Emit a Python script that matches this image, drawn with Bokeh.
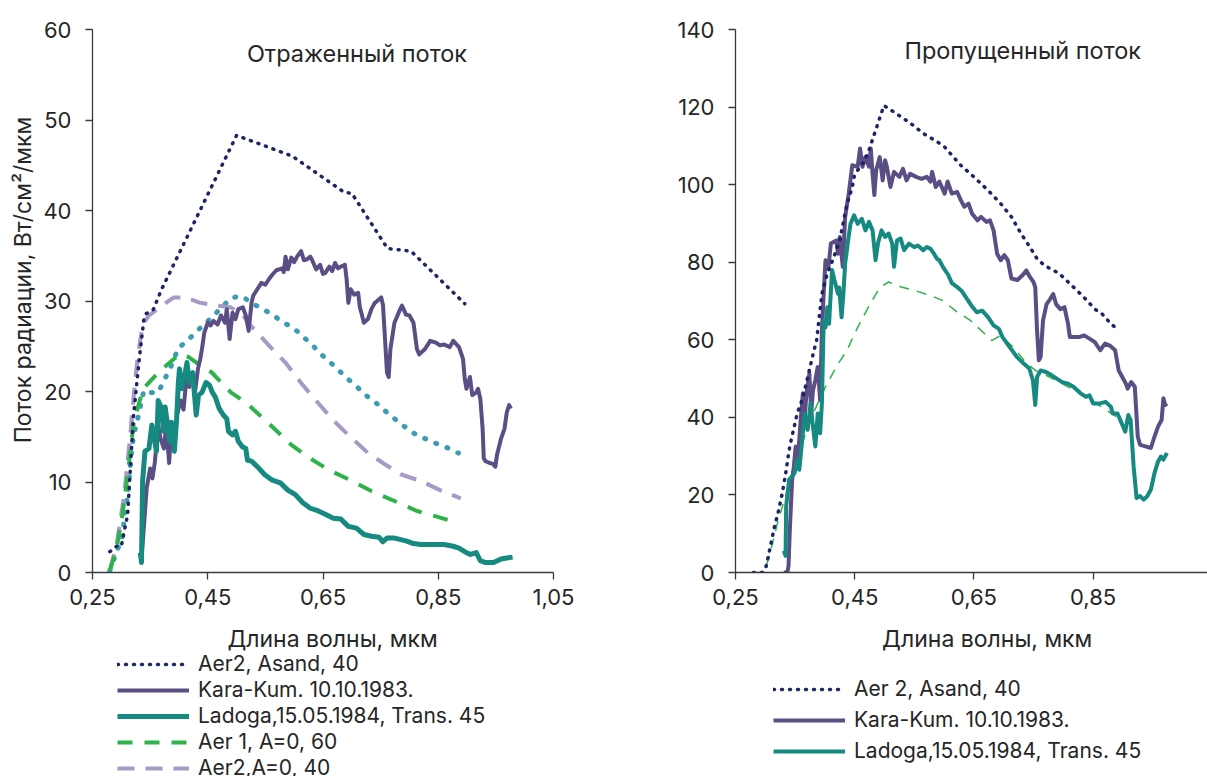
from math import pi

from bokeh.embed import file_html
from bokeh.layouts import column, row
from bokeh.models import FixedTicker, Label, Legend, LegendItem, Range1d
from bokeh.plotting import figure
from bokeh.resources import INLINE

FONT = "Inter"
INK = "#262626"
AXIS = "#3a3a3a"

NAVY = "#1c2566"
PURPLE = "#5b4e85"
TEAL = "#168a80"
GREEN = "#2db34a"
LILAC = "#a89ac6"
CYAN = "#3a9db3"

# ---------------- reflected flux (left panel) ----------------
refl_asand_x = [0.280, 0.292, 0.300, 0.311, 0.321, 0.331, 0.339, 0.343, 0.355, 0.370, 0.500,
                0.597, 0.687, 0.700, 0.762, 0.803, 0.896]
refl_asand_y = [2.3, 2.9, 2.9, 6.4, 17.2, 23.5, 27.9, 28.6, 29.0, 31.3, 48.3,
                46.0, 42.0, 41.9, 35.8, 35.5, 29.7]

refl_karakum_x = [0.335, 0.338, 0.344, 0.350, 0.354, 0.358, 0.364, 0.368, 0.374, 0.378, 0.383, 0.387,
                  0.392, 0.397, 0.403, 0.408, 0.413, 0.418, 0.423, 0.428, 0.433, 0.437, 0.440, 0.444,
                  0.450, 0.455, 0.460, 0.467, 0.473, 0.480, 0.483, 0.488, 0.493, 0.498, 0.503, 0.511,
                  0.516, 0.521, 0.526, 0.529, 0.536, 0.543, 0.550, 0.556, 0.562, 0.569, 0.579, 0.582,
                  0.585, 0.589, 0.595, 0.600, 0.605, 0.612, 0.617, 0.622, 0.628, 0.632, 0.638, 0.645,
                  0.650, 0.654, 0.661, 0.666, 0.671, 0.676, 0.681, 0.688, 0.691, 0.694, 0.698, 0.704,
                  0.711, 0.714, 0.721, 0.728, 0.734, 0.740, 0.744, 0.751, 0.754, 0.757, 0.761, 0.764,
                  0.767, 0.774, 0.784, 0.787, 0.794, 0.800, 0.807, 0.813, 0.817, 0.827, 0.836, 0.846,
                  0.853, 0.860, 0.870, 0.876, 0.886, 0.893, 0.896, 0.899, 0.905, 0.909, 0.916, 0.919,
                  0.923, 0.927, 0.929, 0.932, 0.939, 0.945, 0.949, 0.952, 0.959, 0.965, 0.969, 0.973,
                  0.976]
refl_karakum_y = [1.6, 4.0, 9.3, 11.5, 10.4, 12.1, 16.3, 14.8, 13.7, 16.3, 12.1, 16.3,
                  14.5, 17.5, 19.0, 18.0, 21.5, 20.5, 22.0, 20.0, 22.5, 23.6, 24.7, 26.5,
                  27.6, 27.3, 27.8, 27.4, 28.4, 27.6, 29.1, 25.8, 28.7, 28.0, 29.1, 29.3,
                  28.4, 26.7, 29.8, 30.6, 31.3, 32.0, 31.8, 32.4, 32.9, 33.4, 33.6, 33.2,
                  34.9, 33.5, 34.8, 34.3, 34.9, 35.5, 34.5, 34.6, 34.9, 34.4, 33.5, 34.0,
                  33.0, 33.1, 33.8, 33.3, 34.2, 33.6, 33.8, 34.0, 32.4, 29.8, 31.3, 30.7,
                  30.9, 29.3, 27.6, 28.0, 29.1, 29.8, 30.0, 30.4, 29.6, 26.5, 22.1, 21.6,
                  24.7, 27.6, 29.1, 29.5, 28.5, 28.4, 27.6, 24.7, 24.1, 24.7, 25.6, 25.4,
                  25.1, 25.2, 24.9, 25.6, 24.9, 23.6, 21.4, 20.3, 21.6, 19.6, 19.9, 20.3,
                  19.2, 15.9, 12.6, 12.3, 12.1, 12.0, 11.7, 13.0, 14.8, 15.9, 17.7, 18.5,
                  18.1]

refl_ladoga_x = [0.333, 0.335, 0.337, 0.341, 0.348, 0.353, 0.356, 0.361, 0.364, 0.370, 0.373, 0.376,
                 0.381, 0.384, 0.387, 0.392, 0.396, 0.399, 0.401, 0.405, 0.411, 0.414, 0.418, 0.424,
                 0.427, 0.430, 0.434, 0.440, 0.447, 0.453, 0.458, 0.463, 0.470, 0.477, 0.483, 0.486,
                 0.493, 0.498, 0.503, 0.510, 0.516, 0.519, 0.526, 0.536, 0.549, 0.562, 0.576, 0.589,
                 0.602, 0.615, 0.628, 0.642, 0.655, 0.668, 0.681, 0.694, 0.708, 0.721, 0.734, 0.747,
                 0.754, 0.761, 0.774, 0.794, 0.807, 0.820, 0.840, 0.860, 0.876, 0.886, 0.896, 0.906,
                 0.916, 0.923, 0.932, 0.946, 0.959, 0.969, 0.979]
refl_ladoga_y = [2.2, 1.1, 10.1, 13.4, 13.7, 16.3, 15.2, 13.4, 19.0, 18.1, 15.6, 18.3,
                 15.9, 14.5, 16.6, 13.4, 17.0, 21.0, 22.5, 20.3, 22.1, 23.2, 21.0, 22.1,
                 19.6, 17.4, 19.6, 19.9, 21.0, 20.7, 19.9, 19.4, 18.1, 17.4, 17.0, 15.6,
                 15.2, 15.6, 14.5, 13.9, 13.7, 12.4, 12.3, 11.7, 10.8, 10.2, 9.9, 9.1,
                 8.6, 7.7, 7.1, 6.8, 6.4, 6.0, 5.9, 5.1, 4.9, 4.2, 4.0, 3.9,
                 3.4, 3.8, 3.8, 3.5, 3.2, 3.1, 3.1, 3.1, 2.9, 2.7, 2.3, 2.0,
                 2.2, 1.3, 1.1, 1.1, 1.5, 1.6, 1.7]

refl_aer1_x = [0.280, 0.292, 0.302, 0.311, 0.321, 0.328, 0.338, 0.354, 0.364, 0.384, 0.401, 0.417,
               0.437, 0.457, 0.490, 0.516, 0.562, 0.595, 0.628, 0.661, 0.701, 0.734, 0.774, 0.813,
               0.846, 0.883]
refl_aer1_y = [0.2, 2.7, 6.4, 10.8, 16.3, 18.1, 20.3, 21.4, 22.1, 23.2, 24.1, 23.8,
               22.9, 22.1, 19.9, 18.8, 16.1, 14.1, 12.6, 11.3, 10.1, 9.0, 7.9, 6.8,
               6.2, 5.5]

refl_aer2_x = [0.280, 0.292, 0.305, 0.315, 0.321, 0.328, 0.337, 0.348, 0.371, 0.391, 0.411, 0.437,
               0.464, 0.490, 0.510, 0.523, 0.556, 0.586, 0.615, 0.642, 0.668, 0.694, 0.728, 0.754,
               0.787, 0.820, 0.853, 0.889]
refl_aer2_y = [0.2, 3.1, 8.6, 14.8, 19.2, 23.6, 27.4, 28.4, 29.5, 30.4, 30.4, 29.8,
               29.5, 29.3, 28.5, 27.4, 25.1, 23.1, 20.7, 18.7, 16.8, 15.2, 13.2, 12.1,
               10.8, 10.1, 9.1, 8.2]

refl_model_x = [0.280, 0.288, 0.302, 0.304, 0.306, 0.310, 0.313, 0.315, 0.318, 0.321, 0.325, 0.330,
                0.339, 0.351, 0.364, 0.373, 0.383, 0.399, 0.416, 0.430, 0.447, 0.462, 0.477, 0.493,
                0.510, 0.528, 0.546, 0.564, 0.582, 0.599, 0.615, 0.632, 0.647, 0.663, 0.678, 0.693,
                0.709, 0.724, 0.741, 0.757, 0.774, 0.790, 0.807, 0.827, 0.845, 0.865, 0.885]
refl_model_y = [0.2, 1.6, 4.0, 5.3, 6.8, 8.0, 9.7, 11.5, 13.4, 15.0, 16.1, 17.4,
                20.1, 19.9, 19.9, 21.1, 22.3, 24.8, 25.7, 26.6, 27.6, 28.5, 29.5, 30.4,
                30.5, 29.7, 29.1, 28.4, 27.6, 27.0, 26.1, 25.1, 24.1, 23.2, 22.3, 21.4,
                20.5, 19.6, 18.8, 17.9, 17.0, 16.2, 15.4, 14.8, 14.3, 13.8, 13.2]

# ---------------- transmitted flux (right panel) ----------------
tran_asand_x = [0.280, 0.295, 0.301, 0.307, 0.315, 0.322, 0.328, 0.333, 0.341, 0.346, 0.351, 0.354,
                0.363, 0.372, 0.381, 0.386, 0.392, 0.395, 0.404, 0.413, 0.425, 0.431, 0.437, 0.446,
                0.449, 0.455, 0.465, 0.472, 0.486, 0.499, 0.516, 0.543, 0.566, 0.589, 0.601, 0.628,
                0.650, 0.674, 0.695, 0.713, 0.729, 0.744, 0.756, 0.768, 0.793, 0.817, 0.835, 0.853,
                0.865, 0.880, 0.894]
tran_asand_y = [0.0, 0.0, 1.3, 5.6, 11.5, 15.8, 20.1, 24.4, 32.5, 35.9, 39.3, 41.2,
                45.1, 50.9, 56.8, 59.8, 67.9, 71.8, 77.1, 80.5, 85.6, 90.4, 94.9, 99.4,
                102.0, 103.7, 105.8, 108.0, 114.4, 120.4, 118.7, 115.9, 113.1, 111.0, 109.7, 105.0,
                102.0, 98.5, 95.1, 91.7, 87.4, 83.9, 80.9, 79.2, 77.1, 73.6, 70.9, 67.9,
                66.7, 64.1, 62.4]

tran_karakum_x = [0.331, 0.337, 0.339, 0.341, 0.345, 0.348, 0.351, 0.355, 0.359, 0.363, 0.366, 0.369,
                  0.374, 0.377, 0.380, 0.384, 0.388, 0.392, 0.395, 0.398, 0.401, 0.406, 0.410, 0.419,
                  0.422, 0.425, 0.430, 0.434, 0.440, 0.446, 0.455, 0.459, 0.463, 0.468, 0.474, 0.477,
                  0.480, 0.483, 0.486, 0.492, 0.497, 0.501, 0.504, 0.510, 0.516, 0.525, 0.531, 0.537,
                  0.543, 0.553, 0.562, 0.571, 0.577, 0.580, 0.586, 0.592, 0.601, 0.606, 0.613, 0.622,
                  0.628, 0.634, 0.641, 0.647, 0.656, 0.662, 0.671, 0.677, 0.683, 0.689, 0.695, 0.701,
                  0.707, 0.713, 0.723, 0.732, 0.738, 0.744, 0.750, 0.753, 0.756, 0.759, 0.762, 0.766,
                  0.772, 0.778, 0.783, 0.788, 0.795, 0.802, 0.808, 0.811, 0.817, 0.826, 0.835, 0.844,
                  0.853, 0.862, 0.870, 0.878, 0.887, 0.893, 0.899, 0.905, 0.908, 0.914, 0.920, 0.925,
                  0.929, 0.938, 0.947, 0.953, 0.959, 0.965, 0.968, 0.971, 0.974]
tran_karakum_y = [0.0, 0.0, 1.7, 10.3, 23.9, 27.4, 32.5, 29.9, 38.5, 46.2, 39.3, 46.2,
                  51.3, 41.0, 47.0, 49.6, 53.0, 44.4, 62.4, 71.8, 80.5, 78.8, 84.8, 85.6,
                  82.2, 86.5, 78.8, 91.7, 97.7, 105.0, 104.6, 109.3, 104.6, 107.1, 104.6, 109.3,
                  102.8, 97.3, 103.7, 107.1, 101.1, 106.3, 104.6, 99.4, 103.3, 102.0, 104.1, 101.1,
                  102.8, 102.0, 101.5, 102.0, 100.8, 103.3, 99.4, 100.8, 97.7, 100.8, 97.7, 98.1,
                  96.0, 94.3, 95.1, 92.5, 90.8, 91.7, 90.4, 90.8, 88.2, 82.2, 80.5, 81.8,
                  80.5, 75.8, 75.4, 76.7, 77.9, 76.2, 74.9, 73.5, 62.4, 54.7, 55.6, 65.0,
                  69.2, 70.5, 71.8, 69.2, 67.9, 68.4, 64.1, 60.7, 60.7, 60.7, 61.1, 60.3,
                  59.4, 57.3, 59.0, 58.5, 57.3, 52.1, 50.4, 48.7, 47.4, 49.1, 47.9, 35.0,
                  32.9, 32.5, 32.1, 35.0, 37.6, 39.3, 44.9, 43.2, 43.6]

tran_ladoga_x = [0.331, 0.334, 0.335, 0.340, 0.349, 0.354, 0.357, 0.362, 0.366, 0.371, 0.376, 0.380,
                 0.384, 0.388, 0.392, 0.395, 0.398, 0.401, 0.404, 0.407, 0.412, 0.416, 0.422, 0.424,
                 0.428, 0.431, 0.434, 0.439, 0.443, 0.449, 0.455, 0.462, 0.468, 0.474, 0.480, 0.485,
                 0.489, 0.495, 0.501, 0.507, 0.513, 0.516, 0.521, 0.527, 0.533, 0.541, 0.550, 0.556,
                 0.565, 0.571, 0.577, 0.583, 0.588, 0.592, 0.598, 0.607, 0.613, 0.622, 0.630, 0.637,
                 0.646, 0.655, 0.664, 0.674, 0.683, 0.692, 0.698, 0.710, 0.722, 0.734, 0.743, 0.749,
                 0.753, 0.756, 0.762, 0.771, 0.780, 0.789, 0.798, 0.808, 0.817, 0.829, 0.838, 0.844,
                 0.850, 0.862, 0.871, 0.880, 0.883, 0.891, 0.898, 0.904, 0.909, 0.913, 0.918, 0.923,
                 0.929, 0.935, 0.941, 0.947, 0.953, 0.959, 0.964, 0.968, 0.974]
tran_ladoga_y = [5.6, 4.3, 17.1, 23.9, 25.6, 29.1, 26.5, 34.2, 41.0, 36.8, 43.6, 37.6,
                 32.5, 41.0, 35.9, 43.6, 65.0, 63.2, 68.4, 64.1, 78.0, 75.4, 71.9, 73.5,
                 65.8, 71.8, 79.7, 85.6, 89.9, 92.1, 89.9, 91.2, 88.2, 90.4, 88.2, 80.5,
                 84.8, 88.2, 86.5, 87.4, 84.8, 78.8, 85.6, 86.1, 83.1, 84.8, 83.9, 84.3,
                 83.1, 83.9, 83.5, 82.2, 80.9, 80.5, 78.8, 76.7, 74.6, 73.6, 72.5, 70.9,
                 68.8, 67.1, 67.5, 65.8, 63.7, 62.8, 60.7, 58.1, 55.6, 53.8, 52.6, 49.6,
                 43.2, 50.4, 52.1, 51.7, 50.9, 50.0, 49.1, 48.7, 47.9, 46.2, 45.3, 45.7,
                 43.6, 43.6, 44.0, 42.7, 41.0, 41.0, 38.5, 36.3, 40.6, 39.3, 27.4, 19.2,
                 19.7, 18.8, 19.7, 21.4, 25.6, 28.6, 29.9, 29.1, 30.8]

tran_aer1_x = [0.280, 0.298, 0.307, 0.322, 0.334, 0.346, 0.364, 0.383, 0.401, 0.419, 0.437, 0.455,
               0.473, 0.492, 0.507, 0.528, 0.553, 0.577, 0.598, 0.619, 0.644, 0.665, 0.680, 0.695,
               0.716, 0.734, 0.753, 0.777, 0.808, 0.838, 0.868, 0.898]
tran_aer1_y = [0.0, 0.0, 4.3, 13.7, 19.7, 24.8, 34.2, 41.9, 47.9, 53.0, 57.3, 63.2,
               68.4, 73.5, 74.9, 73.6, 72.6, 71.4, 70.1, 67.5, 65.0, 62.0, 59.8, 61.1,
               58.1, 54.7, 52.1, 50.4, 47.9, 45.3, 42.3, 39.3]

X_TICKS = [0.25, 0.45, 0.65, 0.85, 1.05]
X_TICK_LABELS = ["0,25", "0,45", "0,65", "0,85", "1,05"]
LEFT_Y_TICKS = [0, 10, 20, 30, 40, 50, 60]
RIGHT_Y_TICKS = [0, 20, 40, 60, 80, 100, 120, 140]

LEFT_NAMES = ["Aer2, Asand, 40", "Kara-Kum. 10.10.1983.", "Ladoga,15.05.1984, Trans. 45",
              "Aer 1, A=0, 60", "Aer2,A=0, 40"]
RIGHT_NAMES = ["Aer 2, Asand, 40", "Kara-Kum. 10.10.1983.", "Ladoga,15.05.1984, Trans. 45"]

X_TITLE = "Длина волны, мкм"
Y_TITLE = "Поток радиации, Вт/см²/мкм"

TOP_H = 622        # height of the chart row
BOTTOM_H = 776 - TOP_H
YLAB_W = 40


def make_panel(width, x_end, y_end, y_ticks, border_left, border_right, border_top):
    p = figure(width=width, height=TOP_H, x_range=Range1d(0.25, x_end), y_range=Range1d(0, y_end),
               output_backend="svg", toolbar_location=None,
               min_border_left=border_left, min_border_right=border_right,
               min_border_top=border_top, min_border_bottom=TOP_H - 572)
    p.grid.visible = False
    p.outline_line_color = None
    p.background_fill_color = "white"
    p.border_fill_color = "white"
    for ax in p.axis:
        ax.axis_line_color = AXIS
        ax.axis_line_width = 1.3
        ax.major_tick_line_color = AXIS
        ax.major_tick_line_width = 1.3
        ax.major_tick_out = 7
        ax.major_tick_in = 0
        ax.minor_tick_line_color = None
        ax.major_label_text_font = FONT
        ax.major_label_text_font_size = "22px"
        ax.major_label_text_color = INK
    p.xaxis.ticker = FixedTicker(ticks=X_TICKS)
    p.xaxis.major_label_overrides = dict(zip(X_TICKS, X_TICK_LABELS))
    p.xaxis.major_label_standoff = 9
    p.yaxis.ticker = FixedTicker(ticks=y_ticks)
    p.yaxis.major_label_standoff = 14
    return p


def make_blank(width, height):
    """A figure without axes whose frame fills the whole canvas; 1 unit = 1 px, y grows downward."""
    p = figure(width=width, height=height, x_range=Range1d(0, width), y_range=Range1d(height, 0),
               output_backend="svg", toolbar_location=None, x_axis_type=None, y_axis_type=None,
               min_border=0, min_border_left=0, min_border_right=0, min_border_top=0, min_border_bottom=0)
    p.grid.visible = False
    p.outline_line_color = None
    p.background_fill_color = "white"
    p.border_fill_color = "white"
    return p


def add_text(p, x, y, text, angle=0.0, size="23px"):
    p.add_layout(Label(x=x, y=y, text=text, angle=angle, text_font=FONT, text_font_size=size,
                       text_color=INK, text_align="center", text_baseline="middle"))


def make_legend(p, names, styles, loc, spacing, size):
    # legend keys: styled line renderers holding a single undrawn (NaN) vertex
    nan = float("nan")
    renderers = [p.line([nan], [nan], **st) for st in styles]
    items = [LegendItem(label=n, renderers=[r]) for n, r in zip(names, renderers)]
    lg = Legend(items=items, location=loc, orientation="vertical",
                glyph_width=72, glyph_height=24, label_height=24, label_width=10,
                label_standoff=9, spacing=spacing, padding=0, margin=0,
                border_line_alpha=0, background_fill_alpha=0,
                label_text_font=FONT, label_text_font_size=size, label_text_color=INK)
    p.add_layout(lg)


STYLE_ASAND = dict(line_color=NAVY, line_width=3.5, line_dash="1 7", line_cap="round")
STYLE_KK = dict(line_color=PURPLE, line_width=4, line_join="round")
STYLE_LD_L = dict(line_color=TEAL, line_width=5, line_join="round")
STYLE_LD_R = dict(line_color=TEAL, line_width=4, line_join="round")
STYLE_AER1 = dict(line_color=GREEN, line_width=4, line_dash="15 12")
STYLE_AER2 = dict(line_color=LILAC, line_width=4, line_dash="17 11")

# ---- left panel: reflected flux ----
left = make_panel(640 - YLAB_W, 1.05, 60, LEFT_Y_TICKS, 91 - YLAB_W, 87, 25)
left.line(refl_model_x, refl_model_y, line_color=CYAN, line_width=5, line_dash="1 11", line_cap="round")
left.line(refl_aer2_x, refl_aer2_y, **STYLE_AER2)
left.line(refl_aer1_x, refl_aer1_y, **STYLE_AER1)
left.line(refl_karakum_x, refl_karakum_y, **STYLE_KK)
left.line(refl_ladoga_x, refl_ladoga_y, **STYLE_LD_L)
left.line(refl_asand_x, refl_asand_y, **STYLE_ASAND)
add_text(left, 0.709, 57.3, "Отраженный поток", size="23.5px")

# rotated y title to the left of the reflected-flux panel
ylab = make_blank(YLAB_W, TOP_H)
add_text(ylab, 22, 287, Y_TITLE, angle=pi / 2)

# ---- right panel: transmitted flux ----
right = make_panel(567, 1.042, 140, RIGHT_Y_TICKS, 95, 0, 29)
right.line(tran_aer1_x, tran_aer1_y, line_color=GREEN, line_width=1.5, line_dash="10 8")
right.line(tran_karakum_x, tran_karakum_y, **STYLE_KK)
right.line(tran_ladoga_x, tran_ladoga_y, **STYLE_LD_R)
right.line(tran_asand_x, tran_asand_y, **STYLE_ASAND)
add_text(right, 0.732, 134.5, "Пропущенный поток", size="23.5px")

# ---- strips under the panels: x titles and legends ----
foot_left = make_blank(640, BOTTOM_H)
add_text(foot_left, 332, 16, X_TITLE)
make_legend(foot_left, LEFT_NAMES, [STYLE_ASAND, STYLE_KK, STYLE_LD_L, STYLE_AER1, STYLE_AER2],
            (117, -4), 1, "21px")

foot_right = make_blank(567, BOTTOM_H)
add_text(foot_right, 346.7, 16, X_TITLE)
make_legend(foot_right, RIGHT_NAMES, [STYLE_ASAND, STYLE_KK, STYLE_LD_R], (133, 13), 6, "21px")

layout = column(row(ylab, left, right), row(foot_left, foot_right))
open("out.html", "w").write(file_html(layout, INLINE))
